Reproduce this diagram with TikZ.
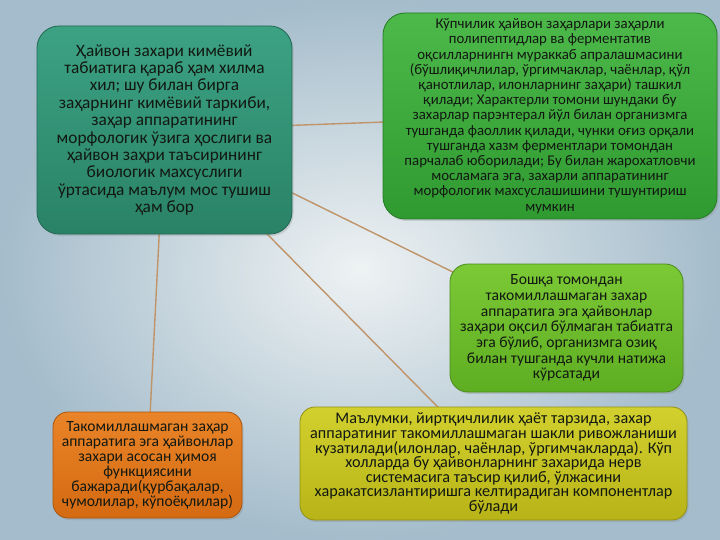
\documentclass[tikz,border=0pt]{standalone}
\usepackage{fontspec}
\setmainfont{Carlito}
\usetikzlibrary{shadows}
\pgfdeclarelayer{back}
\pgfdeclarelayer{lines}
\pgfsetlayers{back,lines,main}
\definecolor{bgin}{HTML}{EEF2F3}
\definecolor{bgout}{HTML}{A4BCCB}
\definecolor{linkc}{HTML}{C09469}
\definecolor{txt}{HTML}{121812}
\definecolor{tealT}{HTML}{3CA283}
\definecolor{tealB}{HTML}{2A8266}
\definecolor{grnT}{HTML}{4DB94A}
\definecolor{grnB}{HTML}{2F9A30}
\definecolor{limT}{HTML}{7CC936}
\definecolor{limB}{HTML}{5EAE22}
\definecolor{yelT}{HTML}{D2D02E}
\definecolor{yelB}{HTML}{B8B418}
\definecolor{orT}{HTML}{EA8428}
\definecolor{orB}{HTML}{D46A12}
\newcommand{\fsz}[2]{\fontsize{#1}{#2}\selectfont\lineskiplimit=-30pt\lineskip=0pt}
\tikzset{
  box/.style={draw=#1B!80!black, line width=0.8pt, align=center, text=txt,
    top color=#1T, bottom color=#1B, inner sep=0pt,
    drop shadow={shadow xshift=1.5pt, shadow yshift=-2pt, opacity=0.25}},
  link/.style={draw=linkc, line width=1.4pt}
}
\begin{document}
\begin{tikzpicture}[x=1pt,y=-1pt]
\begin{pgfonlayer}{back}
\shade[inner color=bgin, outer color=bgout] (0,0) rectangle (720,540);
\end{pgfonlayer}
\useasboundingbox (0,0) rectangle (720,540);

\node[box=teal, rounded corners=22pt, minimum width=255pt, minimum height=208pt,
  font=\fsz{17.3}{17.4}] (teal) at (164.5,130)
{Ҳайвон захари кимёвий\\ табиатига қараб ҳам хилма\\ хил; шу билан бирга\\ заҳарнинг кимёвий таркиби,\\ заҳар аппаратининг\\ морфологик ўзига ҳослиги ва\\ ҳайвон заҳри таъсирининг\\ биологик махсуслиги\\ ўртасида маълум мос тушиш\\ ҳам бор};

\node[box=grn, rounded corners=22pt, minimum width=334pt, minimum height=206pt,
  font=\fsz{14.8}{15.2}] (grn) at (550,116)
{Кўпчилик ҳайвон заҳарлари заҳарли\\ полипептидлар ва ферментатив\\ оқсилларнингн мураккаб апралашмасини\\ (бўшлиқичлилар, ўргимчаклар, чаёнлар, қўл\\ қанотлилар, илонларнинг заҳари) ташкил\\ қилади; Характерли томони шундаки бу\\ захарлар парэнтерал йўл билан организмга\\ тушганда фаоллик қилади, чунки оғиз орқали\\ тушганда хазм ферментлари томондан\\ парчалаб юборилади; Бу билан жарохатловчи\\ мосламага эга, захарли аппаратининг\\ морфологик махсуслашишини тушунтириш\\ мумкин};

\node[box=lim, rounded corners=18pt, minimum width=233pt, minimum height=128pt,
  font=\fsz{15.6}{15.7}] (lim) at (566.5,328)
{Бошқа томондан\\ такомиллашмаган захар\\ аппаратига эга ҳайвонлар\\ заҳари оқсил бўлмаган табиатга\\ эга бўлиб, организмга озиқ\\ билан тушганда кучли натижа\\ кўрсатади};

\node[box=yel, rounded corners=15pt, minimum width=387pt, minimum height=113pt,
  font=\fsz{16.2}{14.6}] (yel) at (493.5,463.5)
{Маълумки, йиртқичлилик ҳаёт тарзида, захар\\ аппаратиниг такомиллашмаган шакли ривожланиши\\ кузатилади(илонлар, чаёнлар, ўргимчакларда). Кўп\\ холларда бу ҳайвонларнинг захарида нерв\\ системасига таъсир қилиб, ўлжасини\\ харакатсизлантиришга келтирадиган компонентлар\\ бўлади};

\node[box=or, rounded corners=15pt, minimum width=189pt, minimum height=106pt,
  font=\fsz{15.6}{15}] (or) at (147.5,465)
{Такомиллашмаган заҳар\\ аппаратига эга ҳайвонлар\\ захари асосан ҳимоя\\ функциясини\\ бажаради(қурбақалар,\\ чумолилар, кўпоёқлилар)};

\begin{pgfonlayer}{lines}
\draw[link] (teal.center) -- (grn.center);
\draw[link] (teal.center) -- (lim.center);
\draw[link] (teal.center) -- (yel.center);
\draw[link] (teal.center) -- (or.center);
\end{pgfonlayer}
\end{tikzpicture}
\end{document}
